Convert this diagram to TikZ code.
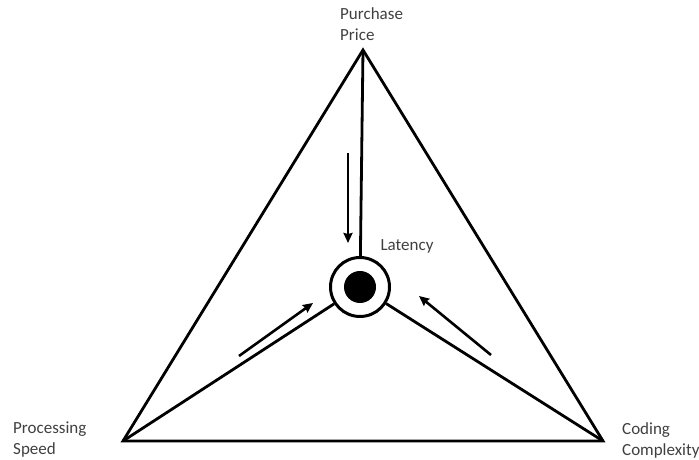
\documentclass[tikz,border=0pt]{standalone}
\usepackage{fontspec}
\setmainfont{Carlito}
\usetikzlibrary{arrows.meta}
\begin{document}
\begin{tikzpicture}[x=1pt,y=1pt,
  edge/.style={line width=2.8pt,line join=miter},
  flow/.style={line width=2.6pt,-{Stealth[length=10pt,width=9pt,inset=1pt]}},
  lbl/.style={inner sep=0pt,align=left,font=\fontsize{17}{21}\selectfont,text=black!75}]
\useasboundingbox (0,0) rectangle (699,460);
\coordinate (A) at (363,410);
\coordinate (L) at (123,19);
\coordinate (R) at (603,19);
\node[circle,draw,line width=3pt,minimum size=59pt,inner sep=0pt] (C) at (360,173) {};
\node[circle,fill=black,minimum size=32pt,inner sep=0pt] (D) at (360,173) {};
\draw[edge] (A) -- (L) -- (R) -- cycle;
\draw[edge] (A) -- (C);
\draw[edge] (L) -- (C);
\draw[edge] (R) -- (C);
\coordinate (a1s) at (348,307);
\coordinate (a1e) at (348,217);
\coordinate (a2s) at (239,104);
\coordinate (a2e) at (313,157);
\coordinate (a3s) at (491,105);
\coordinate (a3e) at (419,164);
\draw[flow] (a1s) -- (a1e);
\draw[flow] (a2s) -- (a2e);
\draw[flow] (a3s) -- (a3e);
\node[lbl,anchor=west] (pp) at (340,435.5) {Purchase\\Price};
\node[lbl,anchor=west] (ps) at (13,20.5) {Processing\\Speed};
\node[lbl,anchor=west] (cc) at (622,19.5) {Coding\\Complexity};
\node[lbl] (lat) at (407,214) {Latency};
\end{tikzpicture}
\end{document}
